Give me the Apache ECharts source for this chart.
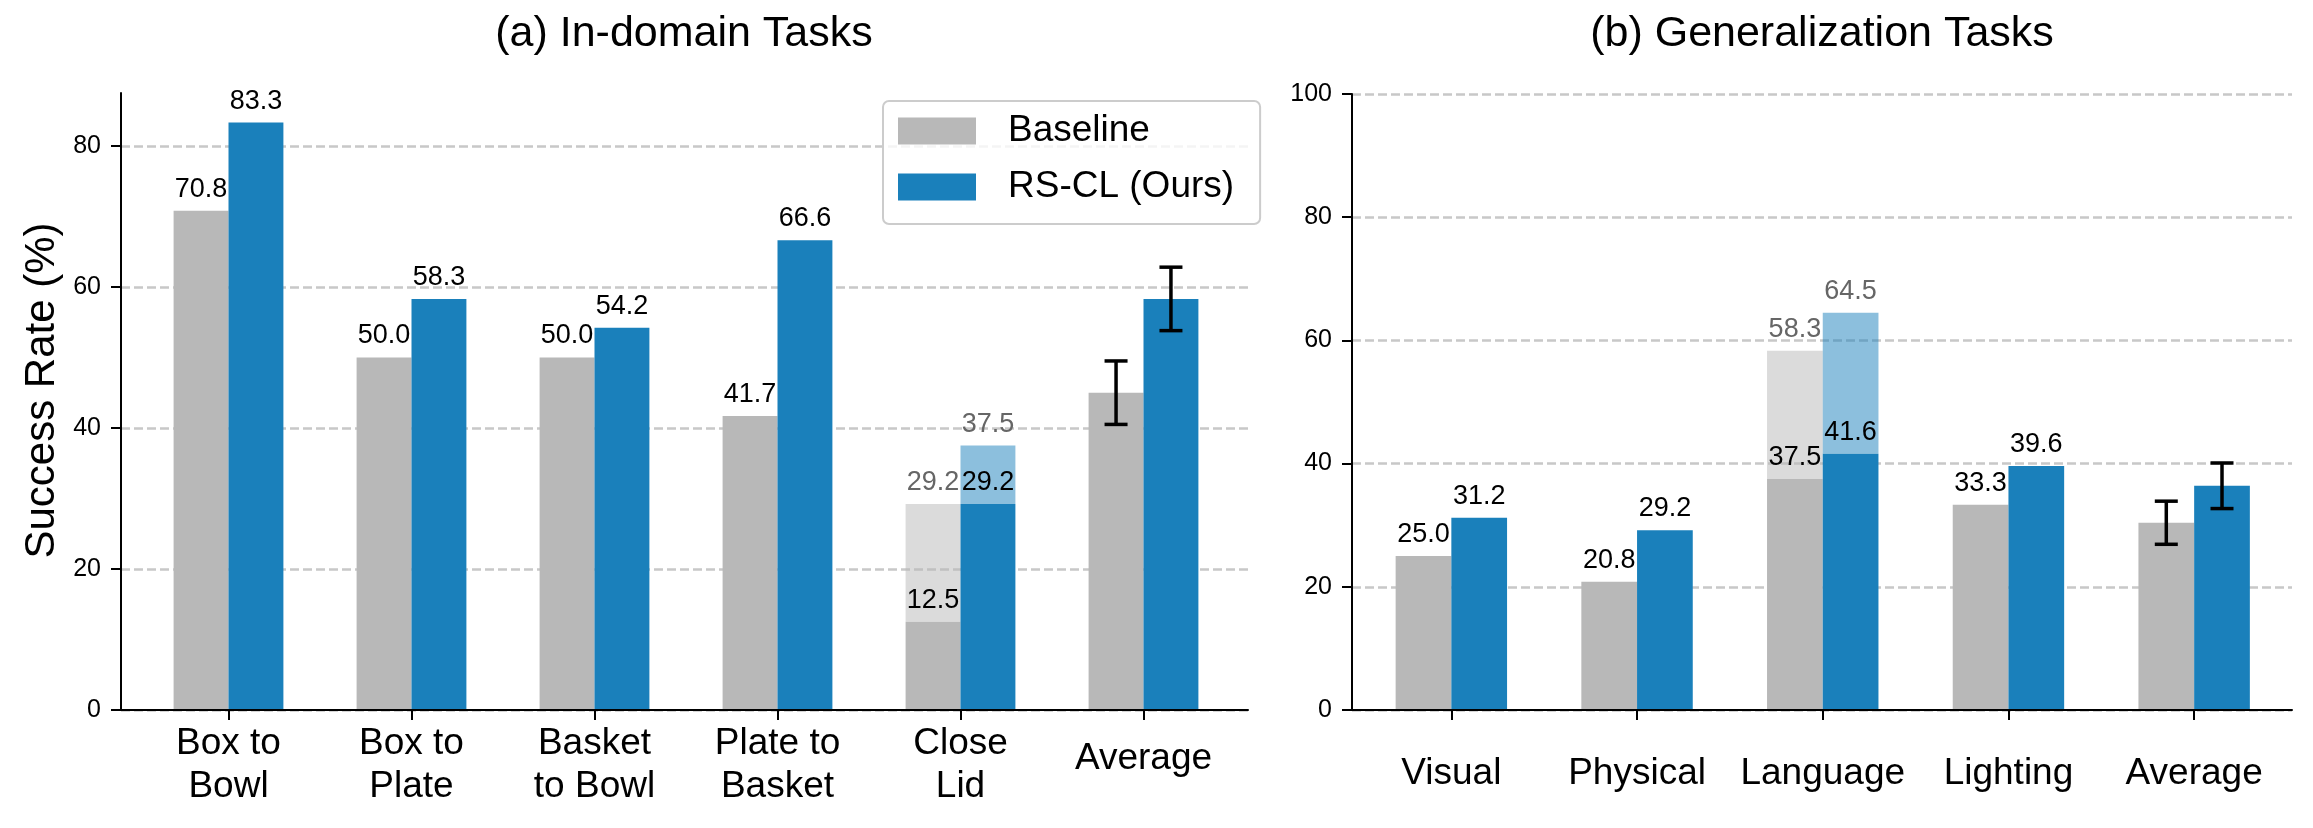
<!DOCTYPE html>
<html>
<head>
<meta charset="utf-8">
<script src="https://cdn.jsdelivr.net/npm/echarts@6.0.0/dist/echarts.min.js"></script>
<style>
  html, body { margin: 0; padding: 0; background: #fff; }
  #chart { width: 2313px; height: 828px; }
</style>
</head>
<body>
<div id="chart"></div>
<script>
// (a) In-domain Tasks
const inCategories = ['Box to\nBowl', 'Box to\nPlate', 'Basket\nto Bowl', 'Plate to\nBasket', 'Close\nLid', 'Average'];
const inBaseline = [70.8, 50.0, 50.0, 41.7, 12.5, 45.0];
const inOurs = [83.3, 58.3, 54.2, 66.6, 29.2, 58.3];
const inBaselineUpper = [null, null, null, null, 29.2, null];
const inOursUpper = [null, null, null, null, 37.5, null];
const inBaselineErr = [null, null, null, null, null, 4.5];
const inOursErr = [null, null, null, null, null, 4.5];
const inTicks = [0, 20, 40, 60, 80];
const inMax = 87.5;

// (b) Generalization Tasks
const genCategories = ['Visual', 'Physical', 'Language', 'Lighting', 'Average'];
const genBaseline = [25.0, 20.8, 37.5, 33.3, 30.4];
const genOurs = [31.2, 29.2, 41.6, 39.6, 36.4];
const genBaselineUpper = [null, null, 58.3, null, null];
const genOursUpper = [null, null, 64.5, null, null];
const genBaselineErr = [null, null, null, null, 3.5];
const genOursErr = [null, null, null, null, 3.7];
const genTicks = [0, 20, 40, 60, 80, 100];
const genMax = 100;

const FONT = 'Liberation Sans';
const GRAY = '#b8b8b8';
const BLUE = '#1a80bb';
const GRAY_LIGHT = 'rgba(184,184,184,0.5)';
const BLUE_LIGHT = 'rgba(26,128,187,0.5)';
const BAR_W = 0.3; // fraction of category spacing

const chart = echarts.init(document.getElementById('chart'));

// 两个面板: 外框 grid (轴线/刻度/网格) + 柱子 grid (类目轴)
const frames = [
  { left: 121, top: 93, width: 1127, height: 617 },
  { left: 1352, top: 94, width: 940, height: 616 }
];
const barGrids = [
  { left: 137, top: 93, width: 1098, height: 617 },
  { left: 1358.5, top: 94, width: 928.5, height: 616 }
];

const gridStyle = { type: [9, 4], color: '#c8c8c8', width: 2.5 };

function frameAxes(ticks, max, withName) {
  const x = {
    type: 'value', min: 0, max: 1, z: 5,
    axisLine: { show: true, lineStyle: { color: '#000', width: 2 } },
    axisTick: { show: false }, axisLabel: { show: false }, splitLine: { show: false }
  };
  const y = {
    type: 'value', min: ticks[0], max: max, interval: ticks[1] - ticks[0],
    axisLine: { show: true, lineStyle: { color: '#000', width: 2 } },
    axisTick: { show: true, length: 10, customValues: ticks, lineStyle: { color: '#000', width: 2 } },
    axisLabel: { fontSize: 25, color: '#000', margin: 20, fontFamily: FONT, customValues: ticks },
    splitLine: { show: true, lineStyle: gridStyle }
  };
  if (withName) {
    y.name = 'Success Rate (%)';
    y.nameLocation = 'middle';
    y.nameGap = 58;
    y.nameTextStyle = { fontSize: 42, color: '#000', fontFamily: FONT, padding: [0, 0, 0, 22] };
  }
  return { x, y };
}

function barAxes(categories, ticks, max, labelMargin) {
  const multi = categories.some(c => c.indexOf('\n') >= 0);
  const x = {
    type: 'category', data: categories,
    axisLine: { show: false },
    axisTick: { show: true, alignWithLabel: true, length: 10, lineStyle: { color: '#000', width: 2 } },
    axisLabel: {
      interval: 0, fontSize: 37, lineHeight: 43, color: '#000', margin: labelMargin, fontFamily: FONT,
      formatter: v => (multi && v.indexOf('\n') < 0) ? '{one|' + v + '}' : v,
      rich: { one: { fontSize: 37, lineHeight: 43, padding: [30, 0, 0, 0], color: '#000', fontFamily: FONT } }
    },
    splitLine: { show: false }
  };
  const y = { type: 'value', show: false, min: ticks[0], max: max };
  return { x, y };
}

function panelSeries(ax, base, ours, baseUp, oursUp, baseErr, oursErr) {
  const avgIdx = base.length - 1;
  const darkLabel = {
    show: true, position: 'top', distance: 8, fontSize: 27, color: '#000', fontFamily: FONT,
    formatter: p => p.value.toFixed(1)
  };
  const items = vals => vals.map((v, i) => ({ value: v, label: { show: i !== avgIdx } }));
  const upper = (low, up) => up.map((u, i) => (u == null ? '-' : u - low[i]));
  const lightLabel = up => ({
    show: true, position: 'top', distance: 8, fontSize: 27, color: '#666666', fontFamily: FONT,
    formatter: p => up[p.dataIndex].toFixed(1)
  });

  const errData = [];
  base.forEach((v, i) => { if (baseErr[i] != null) errData.push([i, v, baseErr[i], -1]); });
  ours.forEach((v, i) => { if (oursErr[i] != null) errData.push([i, v, oursErr[i], 1]); });

  const common = { type: 'bar', xAxisIndex: ax, yAxisIndex: ax, barWidth: (BAR_W * 100) + '%', barGap: '0%', z: 2 };
  return [
    Object.assign({}, common, { name: 'Baseline', stack: 'base' + ax, data: items(base), itemStyle: { color: GRAY }, label: darkLabel }),
    Object.assign({}, common, { name: 'Baseline upper', stack: 'base' + ax, data: upper(base, baseUp), itemStyle: { color: GRAY_LIGHT }, label: lightLabel(baseUp) }),
    Object.assign({}, common, { name: 'RS-CL (Ours)', stack: 'ours' + ax, data: items(ours), itemStyle: { color: BLUE }, label: darkLabel }),
    Object.assign({}, common, { name: 'RS-CL upper', stack: 'ours' + ax, data: upper(ours, oursUp), itemStyle: { color: BLUE_LIGHT }, label: lightLabel(oursUp) }),
    {
      type: 'custom', xAxisIndex: ax, yAxisIndex: ax, z: 10, silent: true,
      data: errData,
      encode: { x: 0, y: 1 },
      renderItem: (params, api) => {
        const i = api.value(0), m = api.value(1), e = api.value(2), side = api.value(3);
        const band = api.size([1, 0])[0];
        const dx = side * BAR_W / 2 * band;
        const top = api.coord([i, m + e]);
        const bot = api.coord([i, m - e]);
        const x = top[0] + dx;
        const cap = 11.5;
        const st = { stroke: '#000', lineWidth: 3.5 };
        return {
          type: 'group',
          children: [
            { type: 'line', shape: { x1: x, y1: top[1], x2: x, y2: bot[1] }, style: st },
            { type: 'line', shape: { x1: x - cap, y1: top[1], x2: x + cap, y2: top[1] }, style: st },
            { type: 'line', shape: { x1: x - cap, y1: bot[1], x2: x + cap, y2: bot[1] }, style: st }
          ]
        };
      }
    }
  ];
}

const fa = frameAxes(inTicks, inMax, true);
const fb = frameAxes(genTicks, genMax, false);
const ba = barAxes(inCategories, inTicks, inMax, 12.5);
const bb = barAxes(genCategories, genTicks, genMax, 42);

const xAxes = [
  Object.assign(fa.x, { gridIndex: 0 }),
  Object.assign(ba.x, { gridIndex: 1 }),
  Object.assign(fb.x, { gridIndex: 2 }),
  Object.assign(bb.x, { gridIndex: 3 })
];
const yAxes = [
  Object.assign(fa.y, { gridIndex: 0 }),
  Object.assign(ba.y, { gridIndex: 1 }),
  Object.assign(fb.y, { gridIndex: 2 }),
  Object.assign(bb.y, { gridIndex: 3 })
];

const option = {
  animation: false,
  backgroundColor: '#fff',
  textStyle: { fontFamily: FONT },
  grid: [frames[0], barGrids[0], frames[1], barGrids[1]].map(g => Object.assign({ containLabel: false, outerBoundsMode: 'none' }, g)),
  xAxis: xAxes,
  yAxis: yAxes,
  legend: {
    data: ['Baseline', 'RS-CL (Ours)'],
    orient: 'vertical',
    left: 883, top: 101,
    padding: [11.5, 26, 18.5, 15],
    itemWidth: 78, itemHeight: 27, itemGap: 19,
    icon: 'rect',
    backgroundColor: 'rgba(255,255,255,0.8)',
    borderColor: '#cccccc', borderWidth: 2, borderRadius: 6,
    textStyle: { fontSize: 37, lineHeight: 37, color: '#000', fontFamily: FONT, padding: [0, 0, 0, 27] }
  },
  graphic: [
    { type: 'text', x: 684, y: 13, style: { text: '(a) In-domain Tasks', fontSize: 43, fontFamily: FONT, fill: '#000', align: 'center', textAlign: 'center', verticalAlign: 'top', textVerticalAlign: 'top' } },
    { type: 'text', x: 1822, y: 13, style: { text: '(b) Generalization Tasks', fontSize: 43, fontFamily: FONT, fill: '#000', align: 'center', textAlign: 'center', verticalAlign: 'top', textVerticalAlign: 'top' } }
  ],
  series: [
    ...panelSeries(1, inBaseline, inOurs, inBaselineUpper, inOursUpper, inBaselineErr, inOursErr),
    ...panelSeries(3, genBaseline, genOurs, genBaselineUpper, genOursUpper, genBaselineErr, genOursErr)
  ]
};

chart.setOption(option);
window.addEventListener('resize', () => chart.resize());
</script>
</body>
</html>
